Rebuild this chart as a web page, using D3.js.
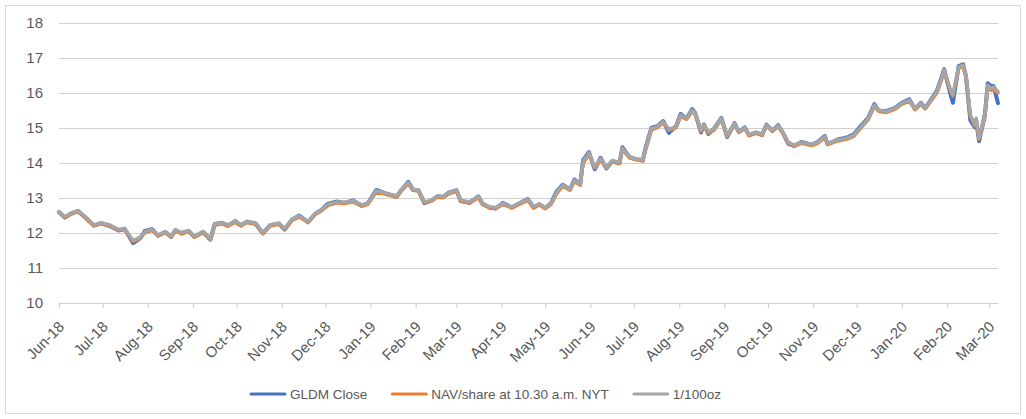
<!DOCTYPE html>
<html>
<head>
<meta charset="utf-8">
<script src="https://cdn.jsdelivr.net/npm/d3@7"></script>
<style>
  body { margin: 0; background: #fff; }
  text { font-family: "Liberation Sans", Arial, sans-serif; fill: #595959; }
</style>
</head>
<body>
<div id="chart"></div>
<script>
// trading dates (sampled)
var dates = [
  "2018-06-25","2018-06-29","2018-07-04","2018-07-08","2018-07-13","2018-07-19","2018-07-24","2018-07-30","2018-08-05","2018-08-09",
  "2018-08-15","2018-08-20","2018-08-23","2018-08-28","2018-09-01","2018-09-06","2018-09-10","2018-09-13","2018-09-17","2018-09-22",
  "2018-09-26","2018-10-02","2018-10-07","2018-10-10","2018-10-15","2018-10-19","2018-10-24","2018-10-28","2018-11-01","2018-11-07",
  "2018-11-12","2018-11-17","2018-11-23","2018-11-27","2018-12-02","2018-12-07","2018-12-13","2018-12-18","2018-12-22","2018-12-27",
  "2019-01-02","2019-01-07","2019-01-13","2019-01-19","2019-01-23","2019-01-29","2019-02-05","2019-02-12","2019-02-15","2019-02-20",
  "2019-02-23","2019-02-27","2019-03-03","2019-03-08","2019-03-12","2019-03-16","2019-03-20","2019-03-25","2019-03-28","2019-04-03",
  "2019-04-09","2019-04-12","2019-04-17","2019-04-21","2019-04-26","2019-05-02","2019-05-07","2019-05-13","2019-05-17","2019-05-21",
  "2019-05-25","2019-05-29","2019-06-02","2019-06-06","2019-06-11","2019-06-14","2019-06-18","2019-06-20","2019-06-24","2019-06-28",
  "2019-07-02","2019-07-06","2019-07-10","2019-07-15","2019-07-17","2019-07-22","2019-07-26","2019-07-31","2019-08-02","2019-08-06",
  "2019-08-10","2019-08-14","2019-08-18","2019-08-23","2019-08-26","2019-08-30","2019-09-03","2019-09-05","2019-09-09","2019-09-11",
  "2019-09-14","2019-09-18","2019-09-23","2019-09-27","2019-10-02","2019-10-05","2019-10-09","2019-10-12","2019-10-17","2019-10-21",
  "2019-10-24","2019-10-28","2019-11-01","2019-11-04","2019-11-08","2019-11-12","2019-11-17","2019-11-24","2019-11-28","2019-12-03",
  "2019-12-05","2019-12-12","2019-12-19","2019-12-23","2019-12-28","2020-01-02","2020-01-06","2020-01-09","2020-01-14","2020-01-20",
  "2020-01-25","2020-01-30","2020-02-03","2020-02-07","2020-02-10","2020-02-14","2020-02-18","2020-02-21","2020-02-23","2020-02-27",
  "2020-02-29","2020-03-04","2020-03-07","2020-03-09","2020-03-12","2020-03-15","2020-03-16","2020-03-18","2020-03-22","2020-03-24",
  "2020-03-26","2020-03-28","2020-03-31"
];

var gldmClose = [
  12.60,12.44,12.57,12.63,12.45,12.21,12.28,12.20,12.07,12.12,
  11.71,11.86,12.06,12.11,11.92,12.03,11.89,12.08,11.99,12.06,
  11.89,12.03,11.81,12.26,12.29,12.21,12.34,12.22,12.32,12.27,
  11.99,12.22,12.27,12.10,12.38,12.50,12.31,12.55,12.65,12.84,
  12.90,12.86,12.93,12.78,12.84,13.23,13.12,13.04,13.22,13.46,
  13.24,13.21,12.85,12.93,13.05,13.03,13.16,13.22,12.91,12.86,
  13.05,12.83,12.72,12.70,12.86,12.73,12.84,12.97,12.73,12.82,
  12.71,12.86,13.20,13.38,13.24,13.53,13.39,14.08,14.31,13.82,
  14.15,13.84,14.05,14.00,14.45,14.16,14.11,14.07,14.45,15.01,
  15.05,15.20,14.86,15.06,15.40,15.27,15.54,15.43,14.87,15.10,
  14.83,14.98,15.29,14.74,15.14,14.89,15.02,14.79,14.87,14.80,
  15.10,14.92,15.08,14.88,14.55,14.49,14.60,14.52,14.60,14.77,
  14.54,14.67,14.74,14.82,15.07,15.30,15.68,15.50,15.48,15.57,
  15.72,15.82,15.54,15.72,15.57,15.81,16.06,16.42,16.68,16.02,
  15.72,16.77,16.82,16.48,15.22,15.02,15.20,14.62,15.40,16.28,
  16.20,16.20,15.71
];

var navShare = [
  12.58,12.45,12.55,12.61,12.44,12.21,12.26,12.20,12.08,12.10,
  11.76,11.86,12.01,12.07,11.92,12.01,11.89,12.06,11.98,12.04,
  11.88,12.01,11.81,12.22,12.26,12.20,12.30,12.20,12.30,12.25,
  11.98,12.20,12.25,12.11,12.36,12.46,12.30,12.53,12.63,12.79,
  12.86,12.84,12.89,12.77,12.82,13.17,13.10,13.03,13.20,13.41,
  13.22,13.20,12.86,12.91,13.03,13.01,13.12,13.20,12.91,12.86,
  13.01,12.82,12.72,12.70,12.82,12.72,12.82,12.93,12.72,12.80,
  12.70,12.82,13.14,13.34,13.22,13.47,13.37,13.99,14.25,13.86,
  14.10,13.85,14.04,13.98,14.38,14.15,14.10,14.06,14.38,14.95,
  15.01,15.15,14.93,15.01,15.33,15.25,15.47,15.39,14.91,15.06,
  14.85,14.94,15.25,14.75,15.10,14.88,14.98,14.79,14.85,14.79,
  15.06,14.91,15.04,14.87,14.56,14.48,14.56,14.50,14.56,14.72,
  14.53,14.63,14.69,14.77,15.01,15.25,15.62,15.48,15.44,15.53,
  15.68,15.77,15.53,15.68,15.55,15.77,16.00,16.36,16.62,16.10,
  15.91,16.71,16.76,16.47,15.34,15.06,15.24,14.68,15.30,16.18,
  16.08,16.10,16.00
];

var hundredthOz = [
  12.61,12.47,12.58,12.64,12.47,12.23,12.29,12.23,12.10,12.13,
  11.78,11.89,12.04,12.10,11.94,12.04,11.91,12.09,12.01,12.07,
  11.91,12.04,11.84,12.26,12.29,12.23,12.33,12.23,12.33,12.28,
  12.01,12.23,12.28,12.13,12.39,12.49,12.33,12.56,12.66,12.82,
  12.89,12.87,12.92,12.80,12.85,13.21,13.13,13.06,13.23,13.44,
  13.25,13.23,12.89,12.94,13.06,13.04,13.15,13.23,12.94,12.89,
  13.04,12.85,12.75,12.73,12.85,12.75,12.85,12.96,12.75,12.83,
  12.73,12.85,13.18,13.37,13.25,13.51,13.40,14.04,14.29,13.89,
  14.13,13.88,14.07,14.01,14.42,14.18,14.13,14.09,14.42,14.99,
  15.04,15.18,14.96,15.04,15.37,15.28,15.51,15.42,14.94,15.09,
  14.88,14.97,15.28,14.78,15.13,14.91,15.01,14.82,14.88,14.82,
  15.09,14.94,15.07,14.90,14.59,14.51,14.59,14.53,14.59,14.75,
  14.56,14.66,14.72,14.80,15.04,15.28,15.66,15.51,15.47,15.56,
  15.71,15.80,15.56,15.71,15.58,15.80,16.04,16.40,16.66,16.13,
  15.94,16.75,16.80,16.51,15.37,15.09,15.28,14.71,15.37,16.23,
  16.13,16.18,16.04
];

var seriesNames = ["GLDM Close", "NAV/share at 10.30 a.m. NYT", "1/100oz"];
var seriesColors = ["#4472c4", "#ed7d31", "#a5a5a5"];
var yTicks = [10, 11, 12, 13, 14, 15, 16, 17, 18];
var xTickLabels = ["Jun-18","Jul-18","Aug-18","Sep-18","Oct-18","Nov-18","Dec-18",
  "Jan-19","Feb-19","Mar-19","Apr-19","May-19","Jun-19","Jul-19","Aug-19","Sep-19",
  "Oct-19","Nov-19","Dec-19","Jan-20","Feb-20","Mar-20"];

var W = 1026, H = 419;
var parse = d3.timeParse("%Y-%m-%d");
var xDates = dates.map(parse);
var series = [gldmClose, navShare, hundredthOz];

var svg = d3.select("#chart").append("svg")
  .attr("width", W)
  .attr("height", H);

// chart area border
svg.append("rect")
  .attr("x", 5.5).attr("y", 5.5)
  .attr("width", 1015).attr("height", 408)
  .style("fill", "#fff")
  .style("stroke", "#d9d9d9");

var x = d3.scaleTime()
  .domain([xDates[0], xDates[xDates.length - 1]])
  .range([59, 998]);
var y = d3.scaleLinear()
  .domain([10, 18])
  .range([303, 23]);

// month ticks fall on the same day as the first point
var tickDates = xTickLabels.map(function(d, i) { return d3.timeMonth.offset(xDates[0], i); });

// gridlines + y labels
var yAxis = svg.append("g")
  .attr("transform", "translate(59,0)")
  .call(d3.axisLeft(y).tickValues(yTicks).tickSize(-(998 - 59)).tickPadding(16).tickFormat(d3.format("d")));
yAxis.select(".domain").remove();
yAxis.selectAll(".tick line")
  .style("stroke", "#d0d0d0")
  .style("stroke-width", 1.2)
  .attr("stroke", null);
yAxis.selectAll(".tick text")
  .style("font-size", "15px")
  .style("font-family", "'Liberation Sans', Arial, sans-serif")
  .attr("fill", null);

// x axis
var xAxis = svg.append("g")
  .attr("transform", "translate(0,303)")
  .call(d3.axisBottom(x).tickValues(tickDates).tickSize(5).tickSizeOuter(0)
    .tickFormat(function(d, i) { return xTickLabels[i]; }));
xAxis.select(".domain").style("stroke", "#d0d0d0").style("stroke-width", 1.2).attr("stroke", null);
xAxis.selectAll(".tick line").style("stroke", "#d0d0d0").style("stroke-width", 1.2).attr("stroke", null);
xAxis.selectAll(".tick text")
  .attr("fill", null)
  .style("font-size", "15px")
  .style("font-family", "'Liberation Sans', Arial, sans-serif")
  .style("text-anchor", "end")
  .attr("y", 0).attr("dy", "0.35em")
  .attr("transform", "translate(2,21) rotate(-45)");

// lines: blue, orange, then grey on top
var line = d3.line()
  .x(function(d, i) { return x(xDates[i]); })
  .y(function(d) { return y(d); });

series.forEach(function(vals, k) {
  svg.append("path")
    .datum(vals)
    .attr("d", line)
    .style("fill", "none")
    .style("stroke", seriesColors[k])
    .style("stroke-width", k == 0 ? 4 : 3.5)
    .style("stroke-linejoin", "round")
    .style("stroke-linecap", "round");
});

// legend
var legend = svg.append("g").attr("transform", "translate(251,394)");
var lx = 0;
seriesNames.forEach(function(name, k) {
  legend.append("line")
    .attr("x1", lx).attr("x2", lx + 34)
    .attr("y1", 0).attr("y2", 0)
    .style("stroke", seriesColors[k])
    .style("stroke-width", 3)
    .style("stroke-linecap", "round");
  var t = legend.append("text")
    .attr("x", lx + 39)
    .attr("y", 0)
    .attr("dy", "0.35em")
    .style("font-size", "13.5px")
    .text(name);
  lx += 39 + t.node().getComputedTextLength() + 25;
});
</script>
</body>
</html>
